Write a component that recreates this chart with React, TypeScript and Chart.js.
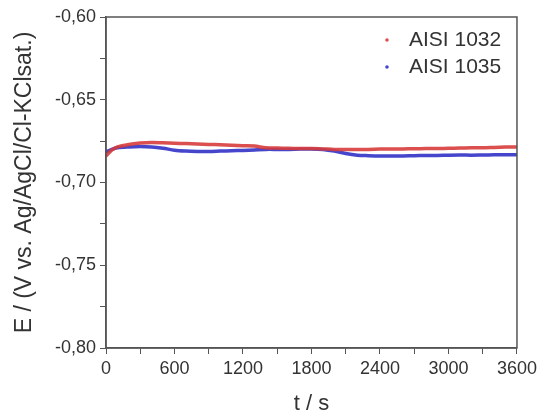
import React, { useEffect, useRef } from "react";
import { Chart, registerables } from "chart.js";

Chart.register(...registerables);

const times = [0, 50, 100, 200, 300, 400, 500, 600, 700, 800, 900, 1000, 1100, 1200, 1300, 1400, 1500, 1600, 1700, 1800, 1900, 2000, 2100, 2200, 2300, 2400, 2500, 2600, 2700, 2800, 2900, 3000, 3100, 3200, 3300, 3400, 3500, 3600];

const aisi1032 = [-0.684, -0.6805, -0.6785, -0.677, -0.6762, -0.6758, -0.676, -0.6763, -0.6765, -0.6768, -0.677, -0.6772, -0.6775, -0.6778, -0.678, -0.679, -0.6792, -0.6793, -0.6795, -0.6795, -0.6797, -0.68, -0.68, -0.68, -0.68, -0.6798, -0.6798, -0.6797, -0.6796, -0.6795, -0.6795, -0.6793, -0.6792, -0.679, -0.679, -0.6788, -0.6786, -0.6785];

const aisi1035 = [-0.6815, -0.68, -0.679, -0.6785, -0.6783, -0.6785, -0.6793, -0.6805, -0.681, -0.6812, -0.6812, -0.681, -0.6808, -0.6806, -0.6803, -0.68, -0.68, -0.68, -0.6798, -0.6797, -0.68, -0.681, -0.6825, -0.6835, -0.6838, -0.684, -0.684, -0.684, -0.6838, -0.6837, -0.6837, -0.6835, -0.6834, -0.6835, -0.6834, -0.6833, -0.6833, -0.6832];

const seriesLabels = ["AISI 1032", "AISI 1035"];
const seriesColors = ["rgba(215,60,60,0.9)", "rgba(50,50,200,0.9)"];
const xTitle = "t / s";
const yTitle = "E / (V vs. Ag/AgCl/Cl-KClsat.)";

const FONT = "'Liberation Sans', Arial, sans-serif";
const TEXT = "#333";
const AXIS = "#555";

const frame = {
  id: "frame",
  afterDraw(chart: any) {
    const { ctx, chartArea } = chart;
    ctx.save();
    ctx.strokeStyle = AXIS;
    ctx.lineWidth = 1.5;
    ctx.strokeRect(chartArea.left, chartArea.top, chartArea.right - chartArea.left, chartArea.bottom - chartArea.top);
    ctx.restore();
  },
};

const insideLegend = {
  id: "insideLegend",
  afterDraw(chart: any) {
    const { ctx, chartArea } = chart;
    ctx.save();
    ctx.font = `21px ${FONT}`;
    ctx.textBaseline = "middle";
    ctx.textAlign = "left";
    chart.data.datasets.forEach((ds: any, i: number) => {
      const y = chartArea.top + 23 + i * 27;
      const xDot = chartArea.right - 130;
      ctx.fillStyle = ds.borderColor;
      ctx.beginPath();
      ctx.arc(xDot, y, 1.8, 0, Math.PI * 2);
      ctx.fill();
      ctx.fillStyle = TEXT;
      ctx.fillText(ds.label, chartArea.right - 108, y);
    });
    ctx.restore();
  },
};

export default function App() {
  const ref = useRef<HTMLCanvasElement>(null);
  useEffect(() => {
    if (!ref.current) return;
    const chart = new Chart(ref.current, {
      type: "line",
      data: {
        datasets: [
          {
            label: seriesLabels[0],
            data: times.map((t, i) => ({ x: t, y: aisi1032[i] })),
            borderColor: seriesColors[0],
            backgroundColor: seriesColors[0],
            borderWidth: 3.5,
            pointRadius: 0,
            tension: 0.3,
          },
          {
            label: seriesLabels[1],
            data: times.map((t, i) => ({ x: t, y: aisi1035[i] })),
            borderColor: seriesColors[1],
            backgroundColor: seriesColors[1],
            borderWidth: 3.5,
            pointRadius: 0,
            tension: 0.3,
          },
        ],
      },
      options: {
        animation: false,
        responsive: false,
        maintainAspectRatio: false,
        layout: { padding: { left: 0, right: 23, top: 17, bottom: 0 } },
        plugins: {
          tooltip: { enabled: false },
          legend: { display: false },
        },
        scales: {
          x: {
            type: "linear",
            min: 0,
            max: 3600,
            ticks: {
              stepSize: 300,
              color: TEXT,
              font: { family: FONT, size: 18 },
              maxRotation: 0,
              autoSkip: false,
              padding: 4,
              callback: (v: any) => (Number(v) % 600 === 0 ? String(v) : ""),
            },
            grid: { drawOnChartArea: false, drawTicks: true, tickLength: 6, color: AXIS },
            border: { color: AXIS, width: 1.5 },
            title: { display: true, text: xTitle, color: TEXT, font: { family: FONT, size: 22, lineHeight: 1 }, padding: { top: 0, bottom: 0 } },
            afterFit: (s: any) => { s.height = 67; },
          },
          y: {
            type: "linear",
            min: -0.8,
            max: -0.6,
            ticks: {
              stepSize: 0.025,
              color: TEXT,
              font: { family: FONT, size: 18 },
              autoSkip: false,
              padding: 4,
              callback: (v: any) => {
                const n = Math.round(Number(v) * 1000);
                return n % 50 === 0 ? (n / 1000).toFixed(2).replace(".", ",") : "";
              },
            },
            grid: { drawOnChartArea: false, drawTicks: true, tickLength: 6, color: AXIS },
            border: { color: AXIS, width: 1.5 },
            title: { display: true, text: yTitle, color: TEXT, font: { family: FONT, size: 23 }, padding: { top: 11, bottom: 0 } },
            afterFit: (s: any) => { s.width = 106; },
          },
        },
      },
      plugins: [frame, insideLegend],
    });
    return () => chart.destroy();
  }, []);
  return (
    <div style={{ position: "fixed", left: 0, top: 0, width: 541, height: 415, background: "#fff" }}>
      <canvas ref={ref} width={541} height={415} />
    </div>
  );
}
